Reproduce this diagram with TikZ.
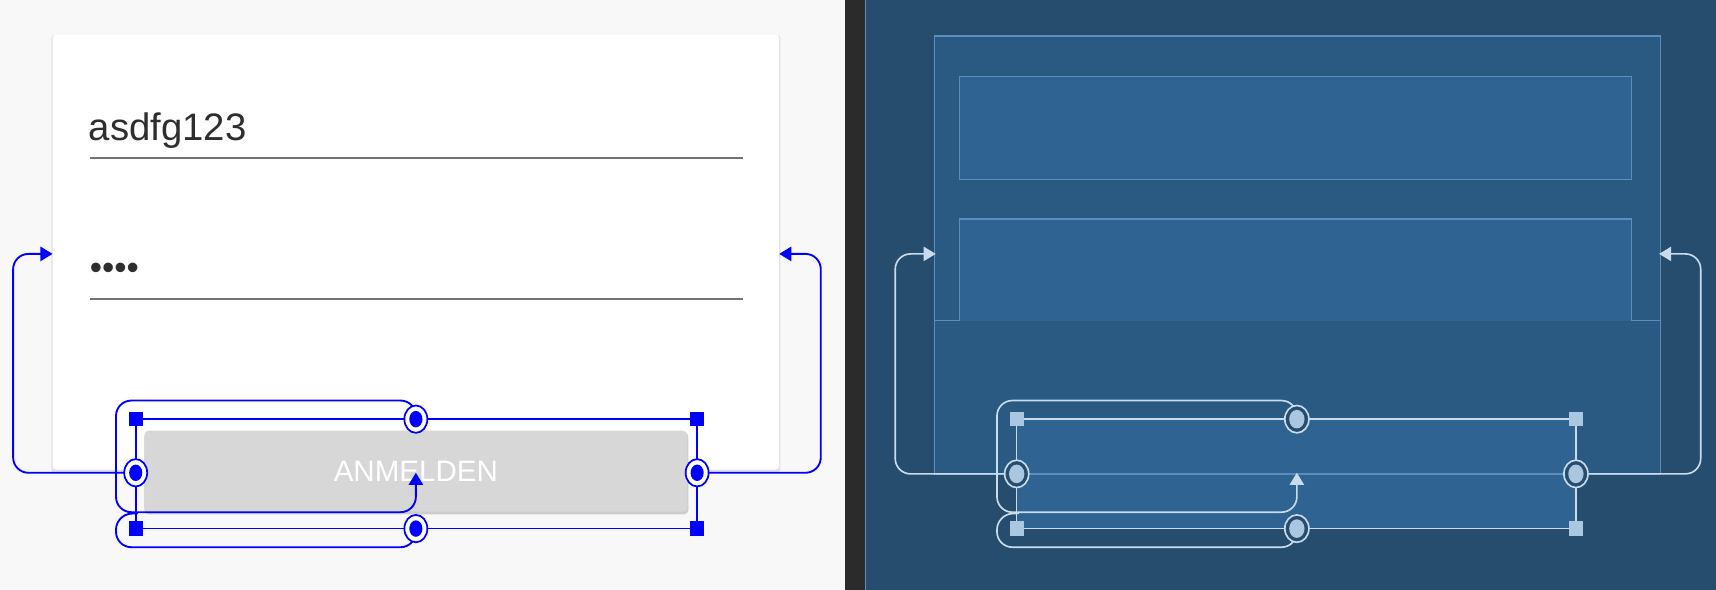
\documentclass[tikz,border=0pt]{standalone}
\usepackage{fontspec}
\setmainfont{Liberation Sans}
\usetikzlibrary{arrows.meta,shapes.geometric}
\definecolor{lbg}{HTML}{F8F8F8}
\definecolor{rbg}{HTML}{264D6E}
\definecolor{bar}{HTML}{2B2B2B}
\definecolor{outerf}{HTML}{2A5A82}
\definecolor{innerf}{HTML}{2F6391}
\definecolor{bstroke}{HTML}{5B8DBF}
\definecolor{cl}{HTML}{C8DCEE}
\definecolor{sq}{HTML}{A9C7E0}
\definecolor{btn}{HTML}{D6D7D6}
\definecolor{cb}{HTML}{0000FF}
\tikzset{
  sqL/.style={fill=cb,minimum size=13pt,inner sep=0pt},
  sqR/.style={fill=sq,minimum size=13pt,inner sep=0pt},
  ringL/.style={ellipse,draw=cb,line width=1.6pt,fill=white,minimum width=21pt,minimum height=25pt,inner sep=0pt,path picture={\fill[cb] (path picture bounding box.center) ellipse (6pt and 7.5pt);}},
  ringR/.style={ellipse,draw=cl,line width=1.5pt,fill=rbg,minimum width=22pt,minimum height=25pt,inner sep=0pt,path picture={\fill[sq] (path picture bounding box.center) ellipse (7pt and 8.5pt);}},
  conL/.style={draw=cb,line width=1.7pt,rounded corners=14pt},
  conR/.style={draw=cl,line width=1.5pt,rounded corners=14pt},
  tipL/.style={-{Triangle[length=11pt,width=13pt]}},
}
\begin{document}
\begin{tikzpicture}[x=1pt,y=-1pt]
\useasboundingbox (0,0) rectangle (1568,539);
\fill[lbg] (0,0) rectangle (772,539);
\fill[bar] (772,0) rectangle (790,539);
\fill[rbg] (790,0) rectangle (1568,539);
\draw[bstroke,line width=1pt] (791,0) -- (791,539);
% ---------- left: design ----------
\fill[black!12,rounded corners=3pt] (47,32) rectangle (713,432);
\node[fill=white,rounded corners=3pt,minimum width=664pt,minimum height=397pt,inner sep=0pt] (card) at (380,230.5) {};
\node[anchor=base west,inner sep=0pt,font=\fontsize{35}{35}\selectfont,text=black!82] (t1) at (81,128) {asdfg123};
\draw[black!55,line width=1.8pt] (82,144) -- (679,144);
\node[anchor=base west,inner sep=0pt,font=\fontsize{32}{32}\selectfont,text=black!82] (t2) at (82,255) {••••};
\draw[black!55,line width=1.8pt] (82,273) -- (679,273);
\fill[black!20,rounded corners=4pt] (132,395) rectangle (629,470);
\node[fill=btn,rounded corners=4pt,minimum width=496pt,minimum height=74pt,inner sep=0pt,text=white,font=\fontsize{27}{27}\selectfont] (btn) at (380,430.5) {ANMELDEN};
\draw[cb,line width=1.5pt] (124,383) rectangle (637,483);
\node[sqL] (tl) at (124,383) {}; \node[sqL] (tr) at (637,383) {};
\node[sqL] (bl) at (124,483) {}; \node[sqL] (br) at (637,483) {};
\coordinate (la) at (48,232); \coordinate (ra) at (712,232); \coordinate (ua) at (380,432);
\draw[conL,tipL] (124,432) -- (12,432) -- (12,232) -- (la);
\draw[conL,tipL] (637,432) -- (750,432) -- (750,232) -- (ra);
\draw[conL,tipL] (380,383) -- (380,366) -- (106,366) -- (106,468) -- (380,468) -- (ua);
\draw[conL] (380,483) -- (380,500) -- (106,500) -- (106,470) -- (126,469);
\node[ringL] (lc) at (124,432) {}; \node[ringL] (rc) at (637,432) {};
\node[ringL] (tc) at (380,383) {}; \node[ringL] (bc) at (380,483) {};
% ---------- right: blueprint ----------
\draw[bstroke,fill=outerf,line width=1.2pt] (854,33) rectangle (1517,433);
\draw[bstroke,line width=1.2pt] (854,293) -- (1517,293);
\draw[bstroke,fill=innerf,line width=1.2pt] (877,70) rectangle (1491,164);
\draw[bstroke,fill=innerf,line width=1.2pt] (877,293) -- (877,200) -- (1491,200) -- (1491,293);
\fill[innerf] (929,383) rectangle (1440,483);
\draw[bstroke,line width=1.2pt] (854,433) -- (1517,433);
\draw[cl,line width=1.3pt] (929,383) rectangle (1440,483);
\node[sqR] (Rtl) at (929,383) {}; \node[sqR] (Rtr) at (1440,383) {};
\node[sqR] (Rbl) at (929,483) {}; \node[sqR] (Rbr) at (1440,483) {};
\coordinate (Rla) at (855,232); \coordinate (Rra) at (1516,232); \coordinate (Rua) at (1185,432);
\draw[conR,tipL] (929,433) -- (818,433) -- (818,232) -- (Rla);
\draw[conR,tipL] (1440,433) -- (1554,433) -- (1554,232) -- (Rra);
\draw[conR,tipL] (1185,383) -- (1185,366) -- (911,366) -- (911,468) -- (1185,468) -- (Rua);
\draw[conR] (1185,483) -- (1185,500) -- (911,500) -- (911,470) -- (931,469);
\node[ringR] (Rlc) at (929,433) {}; \node[ringR] (Rrc) at (1440,433) {};
\node[ringR] (Rtc) at (1185,383) {}; \node[ringR] (Rbc) at (1185,483) {};
\end{tikzpicture}
\end{document}
